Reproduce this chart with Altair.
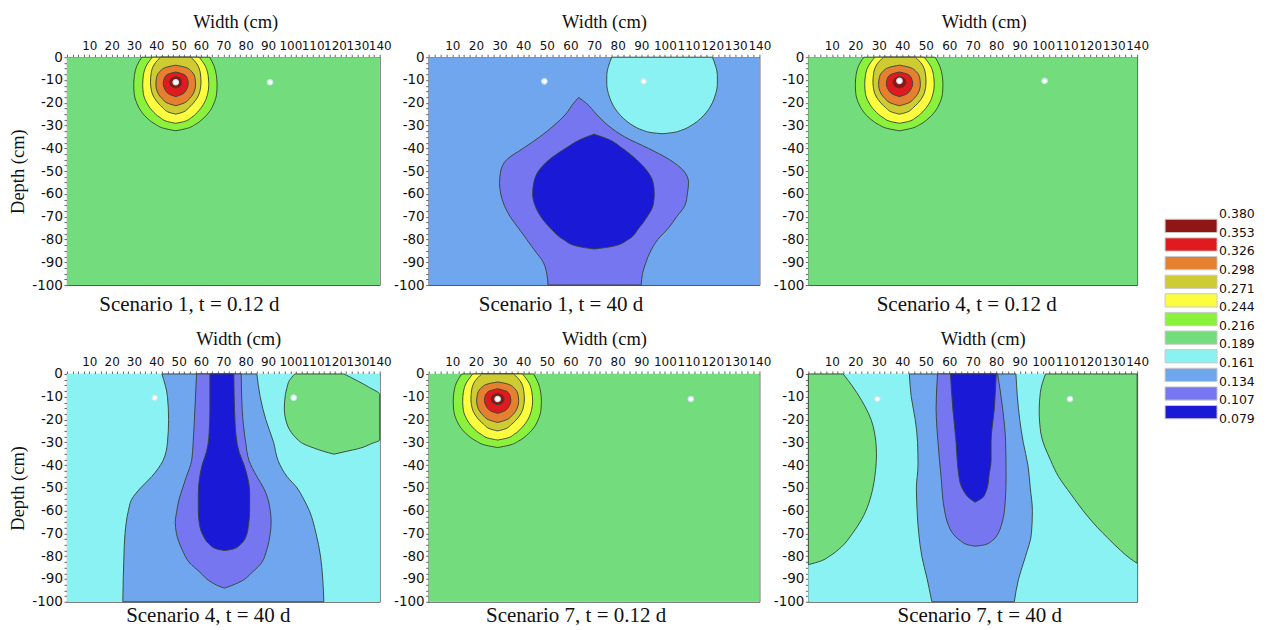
import altair as alt
import pandas as pd

# ---------------- colour levels (index 0 = lowest class) ----------------
LEVEL_COLORS = ["#1a1ad6", "#7676f0", "#6fa6ee", "#8af2f2", "#73dc7d",
                "#8af23c", "#fdfd40", "#cfcb33", "#e4802f", "#e01b20", "#901515"]
LEGEND_LABELS = ["0.380", "0.353", "0.326", "0.298", "0.271", "0.244",
                 "0.216", "0.189", "0.161", "0.134", "0.107", "0.079"]
LEGEND_LEVELS = [10, 9, 8, 7, 6, 5, 4, 3, 2, 1, 0]

CAPTIONS = ["Scenario 1, t = 0.12 d", "Scenario 1, t = 40 d", "Scenario 4, t = 0.12 d",
            "Scenario 4, t = 40 d", "Scenario 7, t = 0.12 d", "Scenario 7, t = 40 d"]
BACKGROUND_LEVEL = [4, 2, 4, 3, 4, 3]
SENSOR_X = [[48.7, 90.9], [49.0, 91.0], [38.8, 100.6], [39.3, 101.5], [29.2, 111.0], [29.4, 111.4]]
SENSOR_DEPTH = [-11.0, -10.6, -10.4, -10.4, -11.0, -11.0]
EMITTER_X = {0: 48.7, 2: 38.8, 4: 29.2}

X_TICKS = [i * 2.5 for i in range(57)]
Y_TICKS = [-100 + i * 2.5 for i in range(41)]

# ---------------- contour regions: (depth, left x, right x) ----------------
TEAR_L5 = [(0, -15.2, 15.2), (-4, -17.5, 17.2), (-8, -18.5, 18.2), (-12, -18.8, 18.5),
           (-16, -18.6, 18.3), (-20, -17.5, 17.2), (-24, -15.3, 15.0), (-27, -12.5, 12.2),
           (-29.5, -9.0, 8.8), (-31.3, -5.0, 4.8), (-32.3, 0, 0)]
TEAR_L6 = [(0, -10.5, 10.5), (-4, -13.3, 13.3), (-8, -14.5, 14.5), (-12, -14.8, 14.8),
           (-16, -14.5, 14.3), (-20, -13.0, 12.8), (-23.5, -10.5, 10.3), (-26.5, -7.0, 7.0),
           (-28.3, -3.5, 3.5), (-29, 0, 0)]
TEAR_L7 = [(0, -6.8, 6.8), (-3, -9.5, 9.5), (-7, -11.0, 11.0), (-11, -11.3, 11.3),
           (-15, -10.8, 10.8), (-19, -8.8, 8.8), (-22, -6.0, 6.0), (-24.2, -3.0, 3.0), (-25, 0, 0)]
TEAR_L8 = [(-3.5, 0, 0), (-4.5, -4.5, 4.5), (-6.5, -7.3, 7.3), (-9, -8.6, 8.6), (-12, -8.9, 8.9),
           (-15, -8.3, 8.3), (-18, -6.3, 6.3), (-20.3, -3.3, 3.3), (-21.3, 0, 0)]
TEAR_L9 = [(-6.5, 0, 0), (-7.5, -3.5, 3.5), (-9, -5.0, 5.0), (-11.5, -5.6, 5.6), (-14, -4.9, 4.9),
           (-16.2, -3.0, 3.0), (-17.3, 0, 0)]
TEAR_L10 = [(-8.5, 0, 0), (-9.3, -2.0, 2.0), (-11, -2.7, 2.7), (-12.7, -2.0, 2.0), (-13.5, 0, 0)]

P2_CYAN = [(0, 77.5, 120.1), (-4, 76.1, 121.5), (-8, 75.4, 122.2), (-12, 75.4, 122.2),
           (-16, 76.1, 121.5), (-20, 77.5, 120.1), (-24, 79.9, 117.7), (-27, 82.6, 115.0),
           (-30, 86.5, 111.1), (-32, 90.5, 107.1), (-33.2, 95.1, 102.5), (-33.6, 98.8, 98.8)]
P2_VIOLET = [(-17.7, 63.5, 63.5), (-20, 61.5, 66.5), (-25, 58, 71), (-30, 53, 76), (-35, 47, 83),
             (-40, 40, 93), (-45, 33, 102), (-50, 30.5, 108), (-55, 30, 110), (-60, 30.5, 109.5),
             (-65, 32, 108.5), (-70, 34.5, 105), (-75, 38, 101.5), (-80, 41.5, 97), (-85, 45, 94),
             (-90, 48.5, 92), (-95, 50, 90.5), (-100, 50.5, 90)]
P2_DARK = [(-33.8, 70, 70), (-36, 64.5, 76), (-40, 58, 82), (-45, 51, 88), (-50, 46.5, 92.5),
           (-55, 44.5, 95), (-60, 44, 95.5), (-65, 45, 95), (-70, 47.5, 92.5), (-75, 51.5, 89),
           (-80, 57, 84.5), (-83, 63, 78), (-84.2, 70, 70)]

P4_GREEN = [(0, 102, 124), (-3, 99.5, 130), (-6, 98.5, 135.5), (-9, 97.8, 140), (-15, 97.3, 140),
            (-22, 98.5, 140), (-27, 101.5, 140), (-29, 103.5, 140), (-30.5, 105.5, 136.5),
            (-32.5, 110.5, 131.5), (-34, 115, 125), (-35.2, 119.5, 119.5)]
P4_BLUE = [(0, 42.5, 85), (-10, 45, 86.5), (-20, 45.5, 89), (-30, 45, 92.5), (-38, 43, 94.5),
           (-45, 38, 98.5), (-50, 33, 103), (-55, 29, 106), (-60, 27.5, 108.5), (-70, 26, 111.5),
           (-80, 25.5, 113.5), (-90, 25.2, 114.5), (-100, 25, 115)]
P4_VIOLET = [(0, 58, 78), (-15, 57.3, 78.4), (-30, 56.5, 80), (-38, 55.8, 81.5), (-45, 53.5, 85),
             (-50, 51.8, 88), (-55, 50.2, 90), (-60, 49.2, 91), (-65, 48.5, 91.4), (-70, 49, 91),
             (-77, 51.5, 89.5), (-83, 55, 87), (-87, 59.5, 83), (-91, 64, 78), (-93.5, 69, 72),
             (-94, 70.5, 70.5)]
P4_DARK = [(0, 64, 74.7), (-15, 64, 75), (-28, 63.5, 75.8), (-34, 62.5, 77), (-40, 60.5, 79.3),
           (-46, 59.3, 81), (-52, 58.8, 81.8), (-60, 58.8, 81.8), (-66, 59.3, 81.3), (-71, 61, 80.3),
           (-74.5, 63.5, 78), (-76.8, 67, 74.5), (-77.5, 70.5, 70.5)]

P6_GREEN_L = [(0, 0, 14.8), (-5, 0, 18.5), (-11.5, 0, 22.6), (-23, 0, 27.6), (-35, 0, 29),
              (-45, 0, 28.3), (-50, 0, 27.5), (-64, 0, 22.6), (-70, 0, 18.8), (-76, 0, 14),
              (-80, 0, 9), (-82, 0, 5.6), (-83.7, 0, 0)]
P6_GREEN_R = [(0, 101, 140), (-8, 98.8, 140), (-16, 98.3, 140), (-26, 99, 140), (-38, 103.2, 140),
              (-45, 106.5, 140), (-52.6, 111.7, 140), (-60, 117, 140), (-67.3, 123, 140),
              (-72, 127.5, 140), (-77.5, 133, 140), (-81, 137, 140), (-83.1, 140, 140)]
P6_BLUE = [(0, 43, 88.4), (-10, 43.8, 89), (-20, 45.5, 90), (-30, 46.5, 91.5), (-40, 46.7, 93.5),
           (-50, 46, 94.5), (-60, 46.3, 95.4), (-70, 47, 95), (-80, 48.3, 92.5), (-90, 50.6, 89.5),
           (-100, 52.6, 87.7)]
P6_VIOLET = [(0, 55, 80.6), (-15, 54.4, 82.7), (-30, 55.2, 84), (-45, 56.5, 84.2), (-60, 58, 83.5),
             (-66, 59.5, 82.3), (-70, 61.5, 80.8), (-73, 64.5, 78.5), (-75, 68, 75), (-75.6, 71, 71)]
P6_DARK = [(0, 60.5, 80), (-15, 61.5, 79.2), (-30, 62.9, 77.8), (-38, 63.4, 77.8), (-44, 64, 77),
           (-49, 65, 76.4), (-52, 66.5, 75.5), (-54.5, 68.5, 74), (-56.3, 71, 71)]

REGIONS = []
for p, cx in EMITTER_X.items():
    for rank, (lvl, rows) in enumerate([(5, TEAR_L5), (6, TEAR_L6), (7, TEAR_L7),
                                        (8, TEAR_L8), (9, TEAR_L9), (10, TEAR_L10)], start=1):
        REGIONS.append((p, rank, lvl, rows, cx))
REGIONS += [
    (1, 1, 3, P2_CYAN, 0), (1, 1, 1, P2_VIOLET, 0), (1, 2, 0, P2_DARK, 0),
    (3, 1, 4, P4_GREEN, 0), (3, 1, 2, P4_BLUE, 0), (3, 2, 1, P4_VIOLET, 0), (3, 3, 0, P4_DARK, 0),
    (5, 1, 4, P6_GREEN_L, 0), (5, 1, 4, P6_GREEN_R, 0), (5, 1, 2, P6_BLUE, 0),
    (5, 2, 1, P6_VIOLET, 0), (5, 3, 0, P6_DARK, 0),
]

recs = []
for rid, (panel, rank, lvl, rows, shift) in enumerate(REGIONS):
    for (d, xl, xr) in rows:
        recs.append(dict(panel=panel, region=rid, rnk=rank, level=lvl,
                         depth=d, xl=xl + shift, xr=xr + shift))
regions_df = pd.DataFrame(recs)

# ---------------- layout constants ----------------
WIDTHS = [313, 331, 329]
HEIGHT = 228
CAP_DX = [-34, -33, -6, -15, -18, 7]
CAP_OFFSET = [2, 2, 2, -3, -3, -3]
TITLE_SHIFT = [12, 10, 11, 15, 10, 10]

SANS = "DejaVu Sans"
SERIF = "Liberation Serif"

color_scale = alt.Scale(domain=list(range(11)), range=LEVEL_COLORS)


def make_panel(p):
    w = WIDTHS[p % 3]
    xs = alt.Scale(domain=[0, 140], nice=False, zero=False)
    ys = alt.Scale(domain=[-100, 0], nice=False, zero=False)
    xaxis = alt.Axis(orient="top", title="Width (cm)", values=X_TICKS,
                     labelExpr="datum.value > 0 && datum.value % 10 === 0 ? '' + datum.value : ''",
                     labelFont=SANS, labelFontSize=12, labelColor="#111", labelPadding=2,
                     labelOverlap=False, labelFlush=False, labelBound=False,
                     tickSize=3, tickColor="#666", domainColor="#555", grid=False,
                     titleFont=SERIF, titleFontSize=18.5, titleFontWeight="normal",
                     titleColor="#111", titleX=w / 2 + TITLE_SHIFT[p], titleY=-29.5,
                     titleBaseline="alphabetic")
    yargs = dict(orient="left", values=Y_TICKS,
                 labelExpr="datum.value % 10 === 0 ? '' + datum.value : ''",
                 labelFont=SANS, labelFontSize=13.5, labelColor="#111", labelPadding=1.5,
                 labelOverlap=False, labelFlush=False, labelBound=False,
                 tickSize=3, tickColor="#666", domainColor="#555", grid=False,
                 titleFont=SERIF, titleFontSize=18.5, titleFontWeight="normal",
                 titleColor="#111", titlePadding=4)
    if p in (0, 3):
        yaxis = alt.Axis(title="Depth (cm)", **yargs)
    else:
        yaxis = alt.Axis(title=None, **yargs)

    bg_df = pd.DataFrame({"xl": [0], "xr": [140], "depth": [-100], "top": [0],
                          "level": [BACKGROUND_LEVEL[p]]})
    bg = alt.Chart(bg_df).mark_rect().encode(
        x=alt.X("xl:Q", scale=xs, axis=xaxis), x2="xr:Q",
        y=alt.Y("depth:Q", scale=ys, axis=yaxis), y2="top:Q",
        color=alt.Color("level:N", scale=color_scale, legend=None))
    layers = [bg]
    sub = regions_df[regions_df.panel == p]
    for rank in sorted(sub["rnk"].unique()):
        part = sub[sub["rnk"] == rank]
        layers.append(alt.Chart(part).mark_area(
            orient="horizontal", interpolate="monotone", stroke="#324232",
            strokeWidth=1, strokeOpacity=0.9).encode(
            y=alt.Y("depth:Q", scale=ys, axis=yaxis),
            x=alt.X("xl:Q", scale=xs, axis=xaxis, stack=None),
            x2="xr:Q",
            color=alt.Color("level:N", scale=color_scale, legend=None),
            detail="region:N"))
    dots_df = pd.DataFrame({"xl": SENSOR_X[p], "depth": [SENSOR_DEPTH[p]] * 2})
    layers.append(alt.Chart(dots_df).mark_point(
        filled=True, fill="white", stroke="#c8e6e6", strokeWidth=1.2, size=30, opacity=1).encode(
        x=alt.X("xl:Q", scale=xs, axis=xaxis), y=alt.Y("depth:Q", scale=ys, axis=yaxis)))
    return alt.layer(*layers).properties(
        width=w, height=HEIGHT,
        title=alt.TitleParams(CAPTIONS[p], orient="bottom", anchor="middle", font=SERIF,
                              fontSize=21, fontWeight="normal", color="#111",
                              offset=CAP_OFFSET[p], dx=CAP_DX[p]))


grid = alt.concat(*[make_panel(p) for p in range(6)], columns=3,
                  spacing={"row": 89, "column": 49}, bounds="flush", align="each")

# ---------------- custom legend ----------------
leg_lab = pd.DataFrame({"i": list(range(len(LEGEND_LABELS))), "label": LEGEND_LABELS})
leg_sw = pd.DataFrame({"i": list(range(len(LEGEND_LEVELS))), "level": LEGEND_LEVELS})
ly = alt.Scale(domain=[-8.42, 14.11], reverse=True, nice=False, zero=False)
sw = alt.Chart(leg_sw).transform_calculate(
    a="datum.i + 0.28", b="datum.i + 0.99").mark_rect(stroke="#c8c8c8", strokeWidth=1).encode(
    x=alt.value(0), x2=alt.value(52),
    y=alt.Y("a:Q", scale=ly, axis=None), y2="b:Q",
    color=alt.Color("level:N", scale=color_scale, legend=None))
lt = alt.Chart(leg_lab).mark_text(align="left", baseline="middle", font=SANS,
                                  fontSize=12.5, color="#111").encode(
    x=alt.value(54), y=alt.Y("i:Q", scale=ly, axis=None), text="label:N")
legend = alt.layer(sw, lt).properties(width=110, height=420,
                                     view=alt.ViewBackground(strokeOpacity=0))

chart = alt.hconcat(grid, legend, spacing=15).properties(
    padding={"left": 8, "top": 12, "right": 5, "bottom": 5},
    background="white").configure_view(stroke="#555", strokeWidth=1)

chart.save("out.html", embed_options={"renderer": "svg", "actions": False})
